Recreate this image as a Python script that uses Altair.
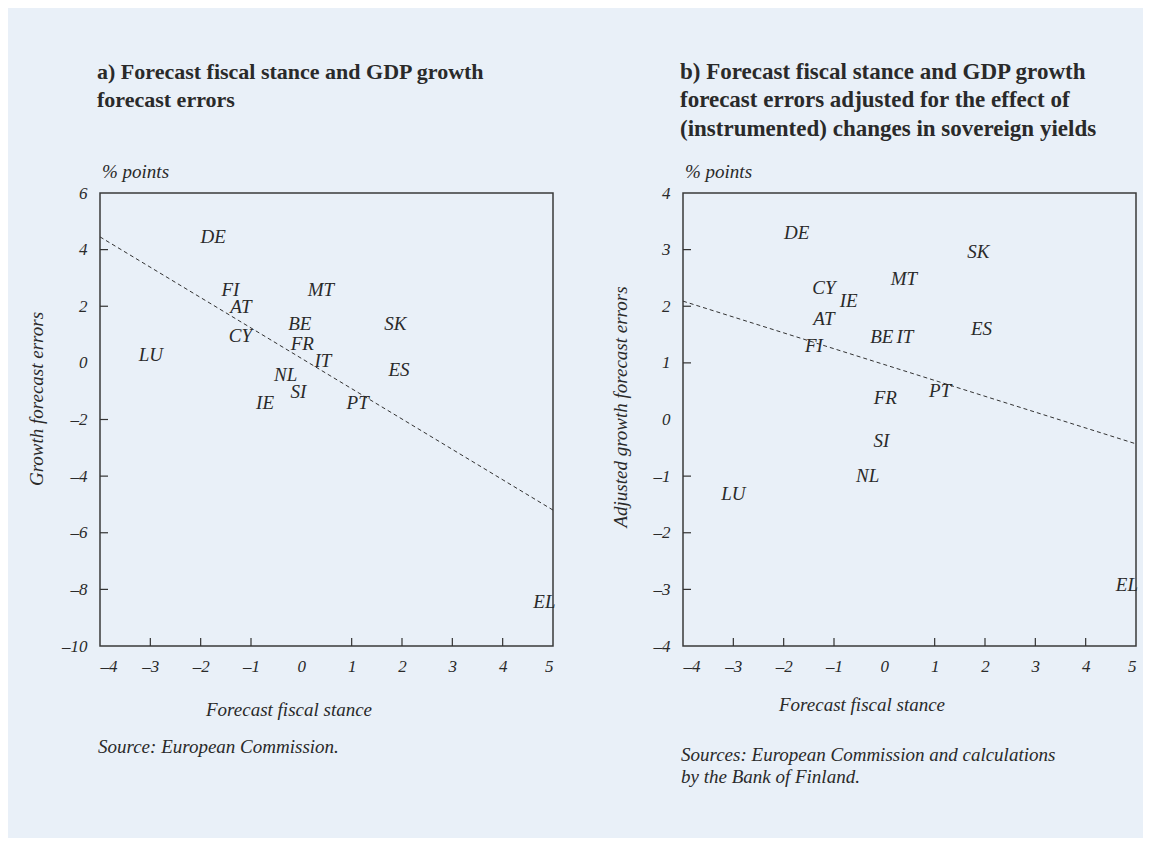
import altair as alt
import pandas as pd

# ---------------- data ----------------
countries_a = ["DE", "FI", "AT", "CY", "MT", "BE", "FR", "IT", "NL", "SI", "IE", "PT", "SK", "ES", "LU", "EL"]
stance_a = [-1.75, -1.41, -1.20, -1.21, 0.39, -0.03, 0.02, 0.43, -0.31, -0.06, -0.72, 1.12, 1.87, 1.94, -2.99, 4.83]
errors_a = [4.43, 2.59, 1.98, 0.94, 2.59, 1.37, 0.68, 0.06, -0.43, -1.02, -1.41, -1.41, 1.37, -0.26, 0.27, -8.44]

countries_b = ["DE", "SK", "MT", "CY", "IE", "AT", "BE", "IT", "ES", "FI", "PT", "FR", "SI", "NL", "LU", "EL"]
stance_b = [-1.74, 1.87, 0.39, -1.20, -0.71, -1.20, -0.05, 0.41, 1.93, -1.40, 1.11, 0.02, -0.06, -0.33, -3.00, 4.82]
errors_b = [3.30, 2.95, 2.49, 2.33, 2.09, 1.78, 1.45, 1.45, 1.59, 1.29, 0.50, 0.38, -0.38, -1.00, -1.32, -2.93]

fit_x = [-4, 5]
fit_a = [4.45, -5.20]
fit_b = [2.09, -0.43]

x_labels = [-4, -3, -2, -1, 0, 1, 2, 3, 4, 5]
x_ticks = [-3, -2, -1, 1, 2, 3, 4]
y_labels_a = [-10, -8, -6, -4, -2, 0, 2, 4, 6]
y_ticks_a = [-8, -6, -4, -2, 2, 4]
y_labels_b = [-4, -3, -2, -1, 0, 1, 2, 3, 4]
y_ticks_b = [-3, -2, -1, 1, 2, 3]

title_a = ["a) Forecast fiscal stance and GDP growth", "forecast errors"]
title_b = ["b) Forecast fiscal stance and GDP growth",
           "forecast errors adjusted for the effect of",
           "(instrumented) changes in sovereign yields"]
ytitle_a = "Growth forecast errors"
ytitle_b = "Adjusted growth forecast errors"
xtitle = "Forecast fiscal stance"
unit = "% points"
source_a = ["Source: European Commission."]
source_b = ["Sources: European Commission and calculations", "by the Bank of Finland."]

# ---------------- style ----------------
FONT = "Liberation Serif"
INK = "#2a2a2a"
BG = "#E9F0F8"
W = 453
H = 453
TICK = 8


def panel(countries, xs, ys, fit_y, ydom, ylabels, yticks, title_lines, title_size,
          ytitle, ytitle_pos, xtitle_pos, src_lines, src_y):
    xscale = alt.Scale(domain=[-4, 5], nice=False, zero=False)
    yscale = alt.Scale(domain=ydom, nice=False, zero=False)
    minus = "replace(datum.label, '\u2212', '\u2013')"
    xaxis = alt.Axis(values=x_labels, title=None, ticks=False, tickSize=0, domain=False, grid=False,
                     labelPadding=12, labelFont=FONT, labelFontStyle="italic", labelFontSize=17,
                     labelColor=INK, labelExpr=minus)
    yaxis = alt.Axis(values=ylabels, title=None, ticks=False, tickSize=0, domain=False, grid=False,
                     labelPadding=13, labelFont=FONT, labelFontStyle="italic", labelFontSize=17,
                     labelColor=INK, labelExpr=minus)

    fit = alt.Chart(pd.DataFrame({"x": fit_x, "y": fit_y})).mark_line(
        color="#333333", strokeWidth=1, strokeDash=[4, 3]).encode(
        x=alt.X("x:Q", scale=xscale, axis=xaxis),
        y=alt.Y("y:Q", scale=yscale, axis=yaxis),
    )

    pts = pd.DataFrame({"x": xs, "y": ys, "c": countries})
    labels = alt.Chart(pts).mark_text(font=FONT, fontStyle="italic", fontSize=19, color=INK,
                                      align="center", baseline="middle").encode(
        x=alt.X("x:Q", scale=xscale, axis=xaxis),
        y=alt.Y("y:Q", scale=yscale, axis=yaxis),
        text="c:N",
    )

    xt = alt.Chart(pd.DataFrame({"x": x_ticks})).mark_rule(color="#333333", strokeWidth=1.2).encode(
        x=alt.X("x:Q", scale=xscale, axis=xaxis),
        y=alt.value(H), y2=alt.value(H - TICK),
    )
    yt = alt.Chart(pd.DataFrame({"y": yticks})).mark_rule(color="#333333", strokeWidth=1.2).encode(
        y=alt.Y("y:Q", scale=yscale, axis=yaxis),
        x=alt.value(0), x2=alt.value(TICK),
    )

    one = pd.DataFrame({"k": [0]})
    ttl = alt.Chart(one).mark_text(font=FONT, fontWeight="bold", fontSize=title_size, color=INK,
                                   align="left", baseline="alphabetic", lineHeight=28.4).encode(
        x=alt.value(-3), y=alt.value(-114), text=alt.value(title_lines))
    unit_t = alt.Chart(one).mark_text(font=FONT, fontStyle="italic", fontSize=19, color=INK,
                                      align="left", baseline="alphabetic").encode(
        x=alt.value(2), y=alt.value(-15), text=alt.value(unit))
    ytl = alt.Chart(one).mark_text(font=FONT, fontStyle="italic", fontSize=19, color=INK,
                                   align="center", baseline="middle", angle=270).encode(
        x=alt.value(ytitle_pos[0]), y=alt.value(ytitle_pos[1]), text=alt.value(ytitle))
    xtl = alt.Chart(one).mark_text(font=FONT, fontStyle="italic", fontSize=19, color=INK,
                                   align="center", baseline="alphabetic").encode(
        x=alt.value(xtitle_pos[0]), y=alt.value(xtitle_pos[1]), text=alt.value(xtitle))
    src = alt.Chart(one).mark_text(font=FONT, fontStyle="italic", fontSize=19, color=INK,
                                   align="left", baseline="alphabetic", lineHeight=21.7).encode(
        x=alt.value(-2), y=alt.value(src_y), text=alt.value(src_lines))

    return alt.layer(fit, xt, yt, labels, ttl, unit_t, ytl, xtl, src).properties(width=W, height=H)


left = panel(countries_a, stance_a, errors_a, fit_a, [-10, 6], y_labels_a, y_ticks_a,
             title_a, 22, ytitle_a, (-63, 206), (189, 523), source_a, 560)
right = panel(countries_b, stance_b, errors_b, fit_b, [-4, 4], y_labels_b, y_ticks_b,
              title_b, 23, ytitle_b, (-62, 214), (179, 518), source_b, 568)

chart = alt.hconcat(left, right, spacing=130, bounds="flush").properties(
    background=BG,
    padding={"left": 19, "top": 52, "right": 4, "bottom": 50},
).configure_view(stroke="#3a3a3a", strokeWidth=1.5)

chart.save("out.html", embed_options={"renderer": "svg", "actions": False})
